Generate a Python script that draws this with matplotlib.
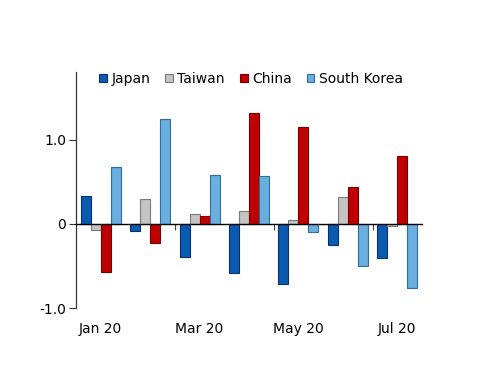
import numpy as np
import matplotlib
matplotlib.use("Agg")
import matplotlib.pyplot as plt
from matplotlib.patches import Patch

months = ["Jan 20", "Feb 20", "Mar 20", "Apr 20", "May 20", "Jun 20", "Jul 20"]
series_names = ["Japan", "Taiwan", "China", "South Korea"]
japan = [0.33, -0.08, -0.39, -0.59, -0.72, -0.25, -0.41]
taiwan = [-0.07, 0.30, 0.12, 0.15, 0.05, 0.32, -0.03]
china = [-0.57, -0.23, 0.09, 1.32, 1.15, 0.44, 0.80]
south_korea = [0.68, 1.25, 0.58, 0.57, -0.10, -0.50, -0.76]
tick_labels = ["Jan 20", "Mar 20", "May 20", "Jul 20"]

values = [japan, taiwan, china, south_korea]
faces = ["#0a5bb0", "#c4c4c4", "#c00000", "#6aaee0"]
edges = ["#0a2e6e", "#7a7a7a", "#7a0000", "#2f6f9e"]

plt.rcParams['font.family'] = ['DejaVu Sans']
fig = plt.figure(figsize=(5.0, 3.86), dpi=100)
ax = fig.add_axes([0.152, 0.202, 0.692, 0.611])

x = np.arange(len(months))
w = 0.2027
for k, (vals, fc, ec) in enumerate(zip(values, faces, edges)):
    ax.bar(x + (k - 1.5) * w, vals, width=w, color=fc, edgecolor=ec,
           linewidth=0.8, label=series_names[k], zorder=2)

ax.set_xlim(-0.5, 6.5)
ax.set_ylim(-1.0, 1.8)

# y axis
ax.set_yticks([-1.0, 0, 1.0])
ax.set_yticklabels(["-1.0", "0", "1.0"])
ax.tick_params(axis='y', length=5, width=0.8, pad=2, labelsize=10, colors='#333333', labelcolor='black')

for s in ['top', 'right']:
    ax.spines[s].set_visible(False)
ax.spines['left'].set_color('#333333')
ax.spines['left'].set_linewidth(0.9)
ax.spines['bottom'].set_position(('data', 0))
ax.spines['bottom'].set_linewidth(1.0)
ax.spines['bottom'].set_zorder(3)

ax.set_xticks([1.5, 3.5, 5.5])
ax.set_xticklabels([])
ax.tick_params(axis='x', length=4, width=0.8, direction='out', colors='#444444')

sec = ax.secondary_xaxis('bottom')
sec.spines['bottom'].set_visible(False)
sec.set_xticks([0, 2, 4, 6])
sec.set_xticklabels(tick_labels)
sec.tick_params(axis='x', length=0, pad=10, labelsize=10)

handles = [Patch(facecolor=fc, edgecolor=ec, linewidth=0.8) for fc, ec in zip(faces, edges)]
ax.legend(handles, series_names, loc='upper center', bbox_to_anchor=(0.506, 1.025),
          ncol=4, frameon=False, fontsize=10, handlelength=0.55, handleheight=0.55,
          handletextpad=0.3, columnspacing=1.1, borderaxespad=0)

fig.savefig("out.png", dpi=100)
